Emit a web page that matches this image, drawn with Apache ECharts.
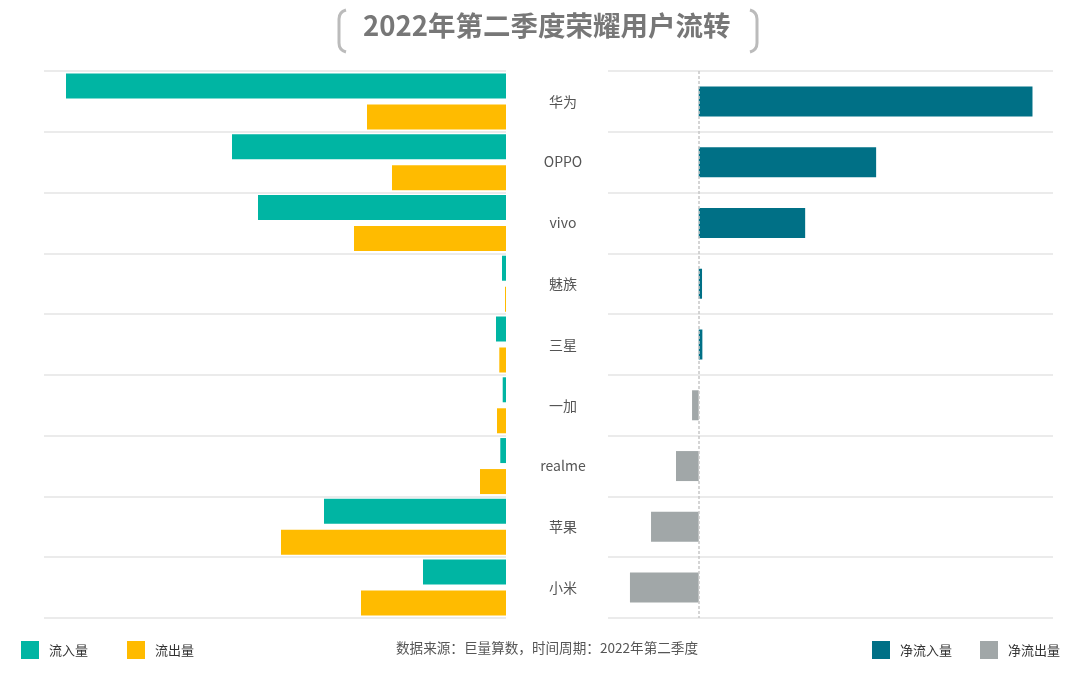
<!DOCTYPE html>
<html>
  <head>
    <meta charset="utf-8" />
    <title>2022年第二季度荣耀用户流转</title>
    <script src="https://cdn.jsdelivr.net/npm/echarts@6/dist/echarts.min.js"></script>
    <style>
      html, body { margin: 0; padding: 0; background: #fff; }
      #main { width: 1080px; height: 673px; }
    </style>
  </head>
  <body>
    <div id="main"></div>
    <script type="text/javascript">
      // 品牌
      var brands = ["华为", "OPPO", "vivo", "魅族", "三星", "一加", "realme", "苹果", "小米"];
      // 流入量 / 流出量 (读图估计，相对值)
      var inflow = [440, 274, 248, 4, 10, 3.3, 5.7, 182, 83];
      var outflow = [139, 114, 152, 1, 6.7, 9, 26, 225, 145];
      // 净流量
      var net = [301, 160, 96, 3, 3.3, -6, -20.5, -43, -62];

      var netIn = net.map(function (v) { return v > 0 ? v : "-"; });
      var netOut = net.map(function (v) { return v < 0 ? v : "-"; });

      var font = '"Noto Sans CJK SC", "Noto Sans", sans-serif';
      var gridLine = { show: true, lineStyle: { color: "#ebebeb", width: 2 } };
      var bracketStyle = { stroke: "#bbb", lineWidth: 3, fill: null };
      var legendText = { fontSize: 13, color: "#333", fontFamily: font, padding: [0, 0, 0, 5] };

      // 标题两侧的括号
      function bracket(x, dir) {
        return {
          type: "group",
          children: [
            { type: "line", shape: { x1: x, y1: 19, x2: x, y2: 43 }, style: bracketStyle },
            { type: "bezierCurve", shape: { x1: x, y1: 19, x2: x + 7 * dir, y2: 10, cpx1: x, cpy1: 12 }, style: bracketStyle },
            { type: "bezierCurve", shape: { x1: x, y1: 43, x2: x + 7 * dir, y2: 52, cpx1: x, cpy1: 50 }, style: bracketStyle },
          ],
        };
      }

      var chart = echarts.init(document.getElementById("main"));
      var option = {
        animation: false,
        textStyle: { fontFamily: font },
        title: {
          text: "2022年第二季度荣耀用户流转",
          left: 363,
          top: 12,
          padding: 0,
          textStyle: { fontSize: 27.5, fontWeight: "bold", color: "#777", fontFamily: font },
        },
        legend: [
          {
            data: ["流入量", "流出量"],
            left: 21,
            top: 641,
            padding: 0,
            icon: "rect",
            itemWidth: 18,
            itemHeight: 18,
            itemGap: 39,
            textStyle: legendText,
          },
          {
            data: ["净流入量", "净流出量"],
            left: 872,
            top: 641,
            padding: 0,
            icon: "rect",
            itemWidth: 18,
            itemHeight: 18,
            itemGap: 28,
            textStyle: legendText,
          },
        ],
        graphic: [
          {
            type: "text",
            left: 396,
            top: 641,
            style: {
              text: "数据来源：巨量算数，时间周期：2022年第二季度",
              fontSize: 13.6,
              fill: "#555",
              fontFamily: font,
            },
          },
          bracket(339, 1),
          bracket(757, -1),
        ],
        grid: [
          { left: 44, right: 574, top: 71, bottom: 55 },
          { left: 608, right: 27, top: 71, bottom: 55 },
        ],
        xAxis: [
          { type: "value", gridIndex: 0, inverse: true, min: 0, max: 462, show: false },
          { type: "value", gridIndex: 1, min: -81.8, max: 319.5, show: false },
        ],
        yAxis: [
          {
            type: "category",
            gridIndex: 0,
            data: brands,
            inverse: true,
            position: "right",
            axisLine: { show: false },
            axisTick: { show: false },
            splitLine: gridLine,
            axisLabel: {
              align: "center",
              margin: 57,
              fontSize: 14,
              color: "#555",
              fontFamily: font,
            },
          },
          {
            type: "category",
            gridIndex: 1,
            data: brands,
            inverse: true,
            axisLine: { show: false },
            axisTick: { show: false },
            axisLabel: { show: false },
            splitLine: gridLine,
          },
        ],
        series: [
          {
            name: "流入量",
            type: "bar",
            xAxisIndex: 0,
            yAxisIndex: 0,
            barWidth: 25,
            barGap: "24%",
            itemStyle: { color: "#00b5a3" },
            data: inflow,
          },
          {
            name: "流出量",
            type: "bar",
            xAxisIndex: 0,
            yAxisIndex: 0,
            barWidth: 25,
            barGap: "24%",
            itemStyle: { color: "#ffbb00" },
            data: outflow,
          },
          {
            name: "净流入量",
            type: "bar",
            xAxisIndex: 1,
            yAxisIndex: 1,
            stack: "net",
            barWidth: 30,
            itemStyle: { color: "#007086" },
            data: netIn,
            markLine: {
              silent: true,
              symbol: "none",
              label: { show: false },
              lineStyle: { color: "#c8c8c8", type: [3, 2], width: 1.5 },
              data: [{ xAxis: 0 }],
            },
          },
          {
            name: "净流出量",
            type: "bar",
            xAxisIndex: 1,
            yAxisIndex: 1,
            stack: "net",
            barWidth: 30,
            itemStyle: { color: "#a1a7a8" },
            data: netOut,
          },
        ],
      };
      chart.setOption(option);
    </script>
  </body>
</html>
